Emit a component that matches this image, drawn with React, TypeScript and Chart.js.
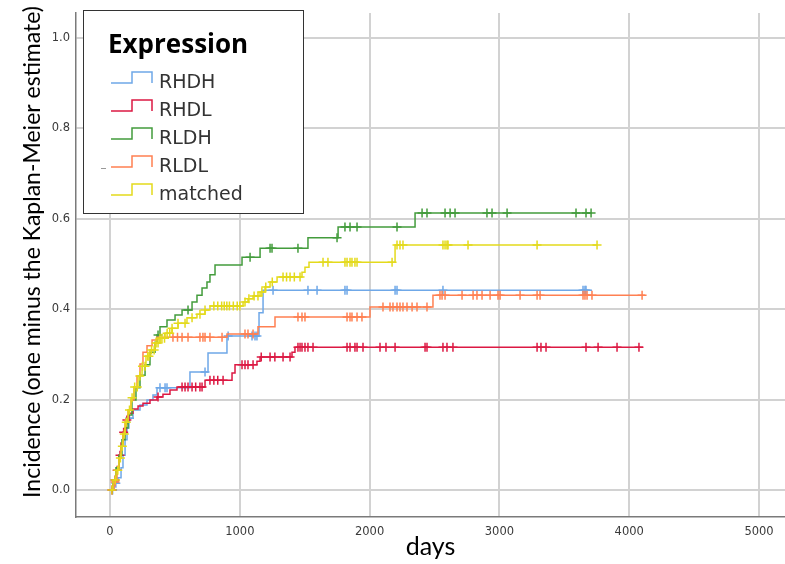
import React, { useEffect, useRef } from 'react';
import { Chart, registerables } from 'chart.js';

Chart.register(...registerables);

// Cumulative incidence (1 - Kaplan-Meier) step curves by expression group.
// *_T: event times (days) where the curve steps, *_V: incidence from that time on,
// *_END: last follow-up time, *_CENSOR: censoring times (drawn as tick marks).

const SERIES_NAMES = ['RHDH', 'RHDL', 'RLDH', 'RLDL', 'matched'];
const SERIES_COLORS = ['#6fa8e8', '#dc1943', '#439c3c', '#ff8052', '#e4da1c'];
const LEGEND_TITLE = 'Expression';
const X_TITLE = 'days';
const Y_TITLE = 'Incidence (one minus the Kaplan-Meier estimate)';

const RHDH_T = [0, 31, 62, 85, 100, 116, 131, 146, 177, 231, 285, 331, 362, 616, 755, 901, 1148, 1179];
const RHDH_V = [0, 0.015, 0.027, 0.049, 0.077, 0.111, 0.137, 0.159, 0.177, 0.188, 0.199, 0.21, 0.226, 0.261, 0.303, 0.341, 0.392, 0.442];
const RHDH_END = 3713;
const RHDH_CENSOR = [20, 45, 150, 385, 424, 439, 732, 910, 1094, 1117, 1132, 1256, 1525, 1595, 1810, 1826, 2196, 2211, 2565, 3644, 3659, 3667];

const RHDL_T = [0, 23, 46, 69, 85, 100, 123, 146, 177, 216, 254, 308, 362, 408, 462, 516, 732, 940, 963, 1132, 1156, 1402, 1425];
const RHDL_V = [0, 0.022, 0.044, 0.077, 0.104, 0.128, 0.155, 0.17, 0.179, 0.186, 0.192, 0.199, 0.206, 0.212, 0.221, 0.228, 0.243, 0.259, 0.277, 0.285, 0.294, 0.305, 0.316];
const RHDL_END = 4106;
const RHDL_CENSOR = [15, 39, 55, 77, 105, 130, 370, 555, 578, 601, 632, 660, 693, 709, 770, 800, 830, 871, 1017, 1040, 1063, 1102, 1165, 1233, 1270, 1333, 1387, 1448, 1464, 1479, 1502, 1525, 1564, 1826, 1849, 1887, 1903, 1949, 2080, 2126, 2196, 2427, 2442, 2565, 2596, 2642, 3290, 3320, 3359, 3667, 3760, 3906, 4075];

const RLDH_T = [0, 23, 46, 69, 92, 116, 139, 169, 200, 231, 270, 308, 347, 362, 385, 439, 501, 555, 632, 670, 709, 747, 770, 809, 1017, 1156, 1525, 1757, 2350];
const RLDH_V = [0, 0.022, 0.049, 0.077, 0.111, 0.137, 0.166, 0.199, 0.226, 0.254, 0.277, 0.305, 0.327, 0.343, 0.361, 0.376, 0.387, 0.398, 0.416, 0.431, 0.447, 0.46, 0.476, 0.498, 0.515, 0.535, 0.558, 0.582, 0.613];
const RLDH_END = 3713;
const RLDH_CENSOR = [370, 601, 1079, 1233, 1248, 1448, 1749, 1810, 1849, 1903, 2211, 2404, 2442, 2581, 2620, 2658, 2904, 2943, 3059, 3590, 3667, 3706];

const RLDL_T = [0, 31, 54, 69, 85, 100, 116, 139, 162, 185, 208, 231, 254, 285, 324, 362, 901, 1140, 1271, 2003, 2488];
const RLDL_V = [0, 0.018, 0.044, 0.071, 0.097, 0.126, 0.155, 0.177, 0.199, 0.226, 0.252, 0.279, 0.305, 0.319, 0.332, 0.338, 0.345, 0.361, 0.383, 0.405, 0.431];
const RLDL_END = 4122;
const RLDL_CENSOR = [39, 485, 520, 555, 601, 693, 716, 732, 770, 863, 1040, 1063, 1102, 1448, 1479, 1502, 1826, 1849, 1864, 1903, 1941, 2103, 2157, 2180, 2211, 2234, 2257, 2288, 2327, 2365, 2442, 2542, 2558, 2581, 2712, 2797, 2827, 2866, 2928, 2989, 3005, 3159, 3290, 3313, 3644, 3659, 3675, 3713, 4099];

const MATCHED_T = [0, 23, 46, 69, 85, 100, 116, 139, 162, 185, 216, 247, 277, 308, 347, 385, 424, 478, 524, 593, 670, 732, 770, 1025, 1063, 1102, 1156, 1194, 1233, 1287, 1479, 1502, 1533, 2196];
const MATCHED_V = [0, 0.022, 0.044, 0.071, 0.097, 0.124, 0.15, 0.177, 0.204, 0.228, 0.252, 0.274, 0.296, 0.31, 0.325, 0.336, 0.347, 0.358, 0.369, 0.381, 0.389, 0.398, 0.407, 0.416, 0.423, 0.429, 0.438, 0.449, 0.46, 0.471, 0.482, 0.493, 0.504, 0.542];
const MATCHED_END = 3752;
const MATCHED_CENSOR = [15, 40, 60, 80, 95, 110, 125, 150, 170, 190, 210, 230, 250, 270, 290, 300, 320, 340, 355, 370, 385, 400, 420, 440, 460, 478, 524, 578, 632, 693, 732, 800, 830, 860, 880, 900, 920, 950, 980, 1000, 1040, 1070, 1110, 1140, 1170, 1200, 1250, 1333, 1360, 1387, 1420, 1464, 1641, 1679, 1810, 1826, 1849, 1864, 1887, 1903, 2173, 2211, 2234, 2257, 2565, 2581, 2596, 2604, 2758, 3290, 3752];

const X_TICKS = [0, 1000, 2000, 3000, 4000, 5000];
const Y_TICKS = [0, 0.2, 0.4, 0.6, 0.8, 1.0];

const GROUPS = [
  { t: RHDH_T, v: RHDH_V, end: RHDH_END, censor: RHDH_CENSOR },
  { t: RHDL_T, v: RHDL_V, end: RHDL_END, censor: RHDL_CENSOR },
  { t: RLDH_T, v: RLDH_V, end: RLDH_END, censor: RLDH_CENSOR },
  { t: RLDL_T, v: RLDL_V, end: RLDL_END, censor: RLDL_CENSOR },
  { t: MATCHED_T, v: MATCHED_V, end: MATCHED_END, censor: MATCHED_CENSOR },
];

// value of a step curve at time x
function stepValue(ts: number[], vs: number[], x: number): number {
  let val = vs[0];
  for (let i = 0; i < ts.length; i++) {
    if (ts[i] <= x) val = vs[i];
  }
  return val;
}

const legendPlugin = {
  id: 'expressionKey',
  afterDraw(chart: any) {
    const ctx = chart.ctx as CanvasRenderingContext2D;
    ctx.save();

    // y axis title
    ctx.translate(33, 252);
    ctx.rotate(-Math.PI / 2);
    ctx.font = '23px Lato';
    ctx.fillStyle = '#000';
    ctx.textAlign = 'center';
    ctx.textBaseline = 'middle';
    ctx.fillText(Y_TITLE, 0, 0);
    ctx.setTransform(1, 0, 0, 1, 0, 0);

    // legend box
    ctx.fillStyle = '#fff';
    ctx.fillRect(83.5, 10.5, 220, 203);
    ctx.strokeStyle = '#333';
    ctx.lineWidth = 1;
    ctx.strokeRect(83.5, 10.5, 220, 203);

    ctx.fillStyle = '#000';
    ctx.textAlign = 'left';
    ctx.textBaseline = 'alphabetic';
    ctx.font = 'bold 26px "Open Sans"';
    ctx.fillText(LEGEND_TITLE, 108, 53);

    ctx.font = '19px "DejaVu Sans"';
    SERIES_NAMES.forEach((name, i) => {
      const base = 88 + i * 28;
      const low = base - 5;
      const high = base - 16;
      ctx.strokeStyle = SERIES_COLORS[i];
      ctx.lineWidth = 1.5;
      ctx.beginPath();
      ctx.moveTo(111, low);
      ctx.lineTo(132, low);
      ctx.lineTo(132, high);
      ctx.lineTo(152, high);
      ctx.lineTo(152, low);
      ctx.stroke();
      ctx.fillStyle = '#333';
      ctx.fillText(name, 159, base);
    });
    // small grey dash beside the RLDL key
    ctx.strokeStyle = '#999';
    ctx.lineWidth = 1;
    ctx.beginPath();
    ctx.moveTo(101, 168.5);
    ctx.lineTo(106, 168.5);
    ctx.stroke();

    ctx.restore();
  },
};

export default function App() {
  const ref = useRef<HTMLCanvasElement | null>(null);

  useEffect(() => {
    if (!ref.current) return;
    const datasets: any[] = [];
    GROUPS.forEach((g, i) => {
      const pts = g.t.map((t, k) => ({ x: t, y: g.v[k] }));
      pts.push({ x: g.end, y: g.v[g.v.length - 1] });
      datasets.push({
        label: SERIES_NAMES[i],
        data: pts,
        stepped: 'before',
        borderColor: SERIES_COLORS[i],
        borderWidth: 1.5,
        pointRadius: 0,
        fill: false,
        order: 10 - i,
      });
      datasets.push({
        label: SERIES_NAMES[i] + ' censored',
        data: g.censor.map((c) => ({ x: c, y: stepValue(g.t, g.v, c) })),
        showLine: false,
        pointStyle: 'cross',
        pointRadius: 4.5,
        pointBorderWidth: 1.5,
        borderColor: SERIES_COLORS[i],
        backgroundColor: SERIES_COLORS[i],
        order: 10 - i,
      });
    });

    const tickFont = { family: '"DejaVu Sans"', size: 11.5 };
    const chart = new Chart(ref.current, {
      type: 'line',
      data: { datasets },
      options: {
        animation: false,
        responsive: true,
        maintainAspectRatio: false,
        layout: { autoPadding: false, padding: { top: 13, right: 0, left: 0, bottom: 0 } },
        plugins: { legend: { display: false }, tooltip: { enabled: false } },
        scales: {
          x: {
            type: 'linear',
            min: -262,
            max: 5200,
            afterBuildTicks: (s: any) => {
              s.ticks = X_TICKS.map((v) => ({ value: v }));
            },
            afterFit: (s: any) => {
              s.height = 47;
              s.paddingLeft = 0;
              s.paddingRight = 0;
            },
            grid: { color: '#d2d2d2', lineWidth: 2, drawTicks: false },
            border: { color: '#7a7a7a', width: 1.5 },
            ticks: {
              font: tickFont,
              color: '#3a3a3a',
              padding: 8,
              maxRotation: 0,
              callback: (v: any) => String(v),
            },
            title: {
              display: true,
              text: X_TITLE,
              color: '#000',
              font: { family: 'Lato', size: 25 },
              padding: { top: 0, bottom: 2 },
            },
          },
          y: {
            type: 'linear',
            min: -0.0597,
            max: 1.0553,
            afterBuildTicks: (s: any) => {
              s.ticks = Y_TICKS.map((v) => ({ value: v }));
            },
            afterFit: (s: any) => {
              s.width = 76;
              s.paddingTop = 0;
              s.paddingBottom = 0;
            },
            grid: { color: '#d2d2d2', lineWidth: 2, drawTicks: false },
            border: { color: '#7a7a7a', width: 1.5 },
            ticks: {
              font: tickFont,
              color: '#3a3a3a',
              padding: 6,
              callback: (v: any) => Number(v).toFixed(1),
            },
          },
        },
      },
      plugins: [legendPlugin],
    });
    return () => chart.destroy();
  }, []);

  return (
    <div style={{ position: 'fixed', left: 0, top: 0, width: 785, height: 564, background: '#fff' }}>
      <canvas ref={ref} style={{ display: 'block' }} />
    </div>
  );
}
